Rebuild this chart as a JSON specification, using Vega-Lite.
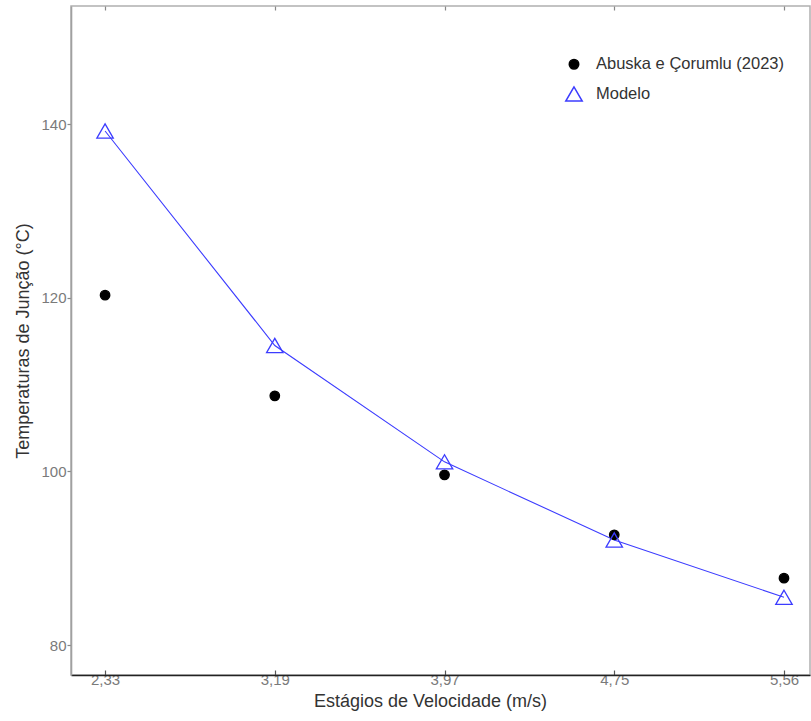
{
  "$schema": "https://vega.github.io/schema/vega-lite/v6.json",
  "width": 739,
  "height": 669,
  "autosize": {"type": "none"},
  "padding": {"left": 71, "top": 6, "right": 1, "bottom": 46},
  "background": "white",
  "config": {
    "font": "Liberation Sans",
    "view": {"stroke": "#b0b0b0", "strokeWidth": 1.5},
    "axis": {"grid": false, "labelFont": "Liberation Sans", "titleFont": "Liberation Sans"}
  },
  "data": {
    "values": [
      {"v": "2,33", "serie": "Abuska e Çorumlu (2023)", "t": 120.3},
      {"v": "3,19", "serie": "Abuska e Çorumlu (2023)", "t": 108.7},
      {"v": "3,97", "serie": "Abuska e Çorumlu (2023)", "t": 99.6},
      {"v": "4,75", "serie": "Abuska e Çorumlu (2023)", "t": 92.7},
      {"v": "5,56", "serie": "Abuska e Çorumlu (2023)", "t": 87.7},
      {"v": "2,33", "serie": "Modelo", "t": 139.2},
      {"v": "3,19", "serie": "Modelo", "t": 114.5},
      {"v": "3,97", "serie": "Modelo", "t": 101.1},
      {"v": "4,75", "serie": "Modelo", "t": 92.1},
      {"v": "5,56", "serie": "Modelo", "t": 85.5}
    ]
  },
  "resolve": {"axis": {"x": "independent"}},
  "layer": [
    {
      "transform": [{"filter": "datum.serie === 'Modelo'"}],
      "mark": {"type": "line", "color": "#3c3cff", "strokeWidth": 1.1},
      "encoding": {
        "x": {
          "field": "v", "type": "ordinal",
          "scale": {"type": "point", "padding": 0.177, "align": 0.567},
          "axis": {"orient": "top", "labels": false, "domain": false, "title": null,
                   "ticks": true, "tickSize": -4, "tickColor": "#888", "tickWidth": 1.2}
        },
        "y": {
          "field": "t", "type": "quantitative",
          "scale": {"domain": [76.55, 153.6], "nice": false, "zero": false}
        }
      }
    },
    {
      "mark": {"type": "point", "opacity": 1, "strokeWidth": 1.3},
      "encoding": {
        "x": {
          "field": "v", "type": "ordinal",
          "axis": {
            "orient": "bottom", "title": "Estágios de Velocidade (m/s)",
            "labelAngle": 0, "labelFontSize": 15, "labelColor": "#7a7a7a",
            "labelPadding": 2,
            "domainColor": "#222", "domainWidth": 1.6,
            "tickColor": "#555", "tickSize": -5, "tickWidth": 1.2,
            "titleFontSize": 18, "titleFontWeight": "normal", "titleColor": "#333",
            "titlePadding": 5, "titleX": 359
          }
        },
        "y": {
          "field": "t", "type": "quantitative",
          "axis": {
            "title": "Temperaturas de Junção (°C)",
            "values": [80, 100, 120, 140],
            "labelFontSize": 15, "labelColor": "#7a7a7a", "labelPadding": 1,
            "domainColor": "#a0a0a0", "domainWidth": 1.6,
            "tickColor": "#888", "tickSize": 4, "tickWidth": 1.2,
            "titleFontSize": 18, "titleFontWeight": "normal", "titleColor": "#333",
            "titlePadding": 8
          }
        },
        "shape": {
          "field": "serie", "type": "nominal",
          "scale": {"domain": ["Abuska e Çorumlu (2023)", "Modelo"], "range": ["circle", "triangle-up"]},
          "legend": {
            "orient": "none", "legendX": 494, "legendY": 50, "title": null,
            "labelFontSize": 16.5, "labelColor": "#333", "labelFont": "Liberation Sans",
            "labelLimit": 400, "labelOffset": 13, "rowPadding": 10, "padding": 0
          }
        },
        "fill": {
          "field": "serie", "type": "nominal",
          "scale": {"domain": ["Abuska e Çorumlu (2023)", "Modelo"], "range": ["#000000", "transparent"]}
        },
        "stroke": {
          "field": "serie", "type": "nominal",
          "scale": {"domain": ["Abuska e Çorumlu (2023)", "Modelo"], "range": ["#000000", "#3c3cff"]}
        },
        "size": {
          "field": "serie", "type": "nominal",
          "scale": {"domain": ["Abuska e Çorumlu (2023)", "Modelo"], "range": [90, 270]}
        }
      }
    }
  ]
}
